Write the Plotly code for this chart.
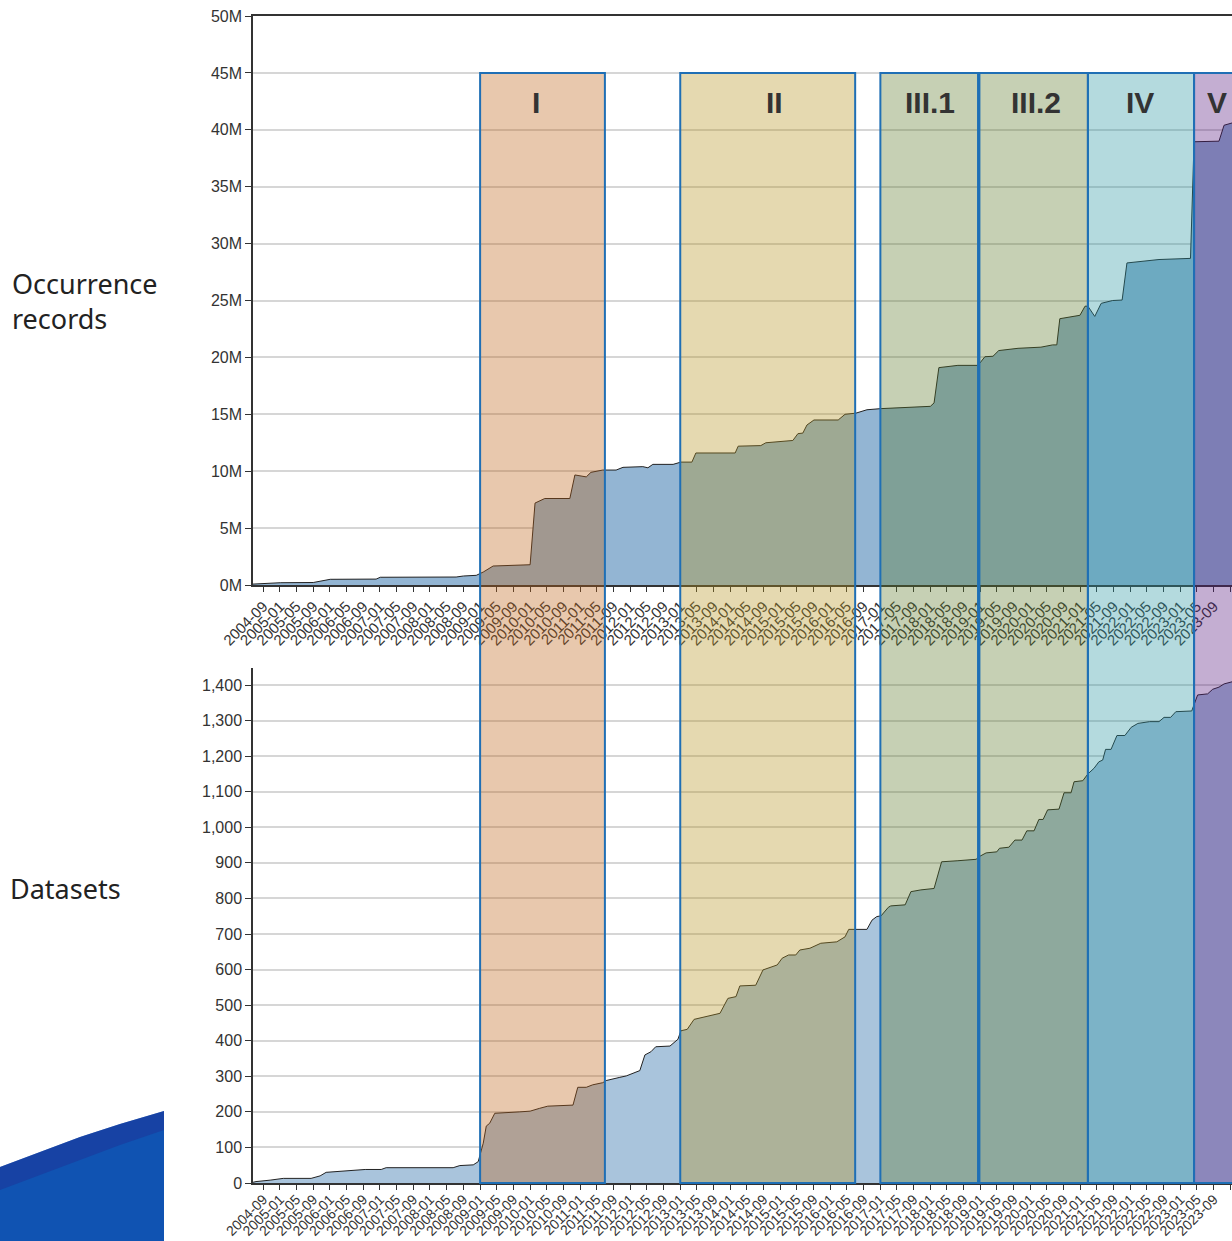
import plotly.graph_objects as go

# ---------------- data ----------------
occ_dates = ["2004-06-18", "2005-01-03", "2005-09-01", "2006-01-03", "2006-12-04", "2007-01-03",
             "2008-07-10", "2008-09-01", "2008-12-04", "2009-01-24", "2009-04-06", "2009-09-21",
             "2010-01-01", "2010-02-06", "2010-04-18", "2010-10-18", "2010-11-24", "2011-02-15",
             "2011-03-21", "2011-06-15", "2011-09-21", "2011-11-10", "2012-04-03", "2012-05-10",
             "2012-06-15", "2012-11-10", "2013-01-06", "2013-03-27", "2013-04-25", "2014-02-06",
             "2014-02-28", "2014-08-12", "2014-09-18", "2015-04-03", "2015-05-10", "2015-06-15",
             "2015-07-15", "2015-09-04", "2016-02-28", "2016-04-18", "2016-07-06", "2016-09-25",
             "2017-01-06", "2018-01-01", "2018-01-28", "2018-03-04", "2018-07-21", "2018-12-15",
             "2019-02-03", "2019-04-03", "2019-05-15", "2019-10-03", "2020-03-18", "2020-06-12",
             "2020-07-12", "2020-08-03", "2020-10-24", "2020-12-28", "2021-02-03", "2021-02-24",
             "2021-04-15", "2021-06-01", "2021-08-24", "2021-11-01", "2021-12-06", "2022-07-28",
             "2023-03-15", "2023-04-10", "2023-10-09", "2023-11-15", "2024-01-12"]
occ_millions = [0.08, 0.2, 0.22, 0.5, 0.52, 0.68,
                0.7, 0.79, 0.85, 1.14, 1.67, 1.73,
                1.78, 7.2, 7.6, 7.6, 9.67, 9.5,
                9.9, 10.1, 10.1, 10.34, 10.4, 10.3,
                10.6, 10.6, 10.8, 10.8, 11.6, 11.6,
                12.2, 12.25, 12.5, 12.7, 13.3, 13.35,
                14.06, 14.5, 14.5, 15.0, 15.1, 15.4,
                15.5, 15.7, 16.0, 19.1, 19.3, 19.3,
                20.06, 20.1, 20.6, 20.8, 20.9, 21.1,
                21.1, 23.4, 23.6, 23.7, 24.5, 24.5,
                23.6, 24.75, 25.0, 25.04, 28.3, 28.6,
                28.7, 38.95, 39.0, 40.4, 40.6]

ds_dates = ["2004-06-18", "2004-07-10", "2004-10-21", "2005-01-25", "2005-08-16", "2005-10-21",
            "2005-12-04", "2006-02-15", "2006-08-10", "2006-09-15", "2007-01-10", "2007-02-15",
            "2008-06-18", "2008-08-06", "2008-11-12", "2008-12-18", "2009-01-24", "2009-02-15",
            "2009-03-12", "2009-04-18", "2009-10-18", "2010-01-01", "2010-03-12", "2010-05-10",
            "2010-11-10", "2010-12-15", "2011-02-15", "2011-04-03", "2011-06-15", "2011-07-10",
            "2011-10-18", "2011-12-04", "2012-03-12", "2012-04-18", "2012-06-01", "2012-07-06",
            "2012-10-18", "2012-12-15", "2013-01-06", "2013-02-21", "2013-04-12", "2013-07-01",
            "2013-09-12", "2013-10-18", "2013-12-15", "2014-02-12", "2014-03-12", "2014-07-06",
            "2014-08-28", "2014-11-03", "2014-12-10", "2015-01-15", "2015-03-03", "2015-04-24",
            "2015-05-24", "2015-08-06", "2015-10-24", "2016-02-18", "2016-04-18", "2016-05-15",
            "2016-09-25", "2016-11-01", "2016-12-06", "2017-01-06", "2017-02-28", "2017-03-18",
            "2017-07-01", "2017-08-12", "2017-10-24", "2018-01-28", "2018-03-24", "2018-07-21",
            "2018-12-01", "2018-12-21", "2019-02-12", "2019-05-01", "2019-05-21", "2019-07-28",
            "2019-09-10", "2019-11-01", "2019-12-06", "2020-01-28", "2020-03-03", "2020-04-03",
            "2020-05-06", "2020-07-28", "2020-09-03", "2020-10-24", "2020-11-15", "2021-01-18",
            "2021-02-24", "2021-04-10", "2021-05-15", "2021-06-12", "2021-07-03", "2021-08-12",
            "2021-09-24", "2021-11-21", "2022-01-06", "2022-02-24", "2022-05-21", "2022-07-28",
            "2022-09-03", "2022-10-21", "2022-11-28", "2023-03-24", "2023-05-06", "2023-07-18",
            "2023-08-24", "2023-10-09", "2023-11-15", "2024-01-12"]
ds_counts = [2, 4, 8, 13, 13, 20,
             30, 32, 35, 38, 38, 43,
             43, 49, 51, 60, 112, 160,
             168, 196, 200, 202, 210, 216,
             219, 269, 269, 276, 282, 288,
             297, 301, 316, 360, 369, 383,
             385, 404, 428, 432, 460, 468,
             475, 477, 519, 524, 554, 556,
             599, 608, 613, 632, 641, 641,
             655, 660, 674, 678, 692, 713,
             713, 739, 749, 751, 775, 779,
             782, 819, 824, 828, 903, 906,
             910, 917, 928, 931, 941, 944,
             964, 964, 990, 990, 1022, 1022,
             1049, 1051, 1097, 1097, 1128, 1131,
             1150, 1166, 1184, 1189, 1219, 1219,
             1258, 1258, 1281, 1292, 1297, 1297,
             1309, 1309, 1325, 1327, 1372, 1375,
             1388, 1394, 1403, 1409]

phase_names = ["I", "II", "III.1", "III.2", "IV", "V"]
phase_starts = ["2009-01-01", "2013-01-01", "2017-01-01", "2018-12-25", "2021-02-24", "2023-04-10"]
phase_ends = ["2011-07-01", "2016-07-01", "2018-12-15", "2021-02-24", "2023-04-10", "2024-02-20"]
phase_label_dates = ["2010-02-15", "2014-11-20", "2017-12-28", "2020-02-10", "2022-03-10", "2023-09-25"]
phase_colors = ["rgba(189,98,21,0.35)", "rgba(181,146,29,0.35)", "rgba(93,121,41,0.35)",
                "rgba(93,121,41,0.35)", "rgba(41,149,161,0.35)", "rgba(87,24,126,0.35)"]

occ_ticks = [0, 5, 10, 15, 20, 25, 30, 35, 40, 45, 50]
ds_ticks = [0, 100, 200, 300, 400, 500, 600, 700, 800, 900, 1000, 1100, 1200, 1300, 1400]

# ---------------- layout geometry ----------------
W, H = 1232, 1241
ML, MT, MB = 253, 16, 58
plot_w = W - ML
plot_h = H - MT - MB


def px_x(p):
    return (p - ML) / plot_w


def px_y(p):
    return (H - MB - p) / plot_h


x_range = ["2004-06-18", "2024-01-12"]
font_fam = "Liberation Sans, Arial, sans-serif"

fig = go.Figure()
fig.add_trace(go.Scatter(x=occ_dates, y=occ_millions, mode="lines", fill="tozeroy",
                         fillcolor="#93b5d3", line=dict(color="#222222", width=1),
                         xaxis="x", yaxis="y", showlegend=False, hoverinfo="skip"))
fig.add_trace(go.Scatter(x=ds_dates, y=ds_counts, mode="lines", fill="tozeroy",
                         fillcolor="#a9c4dc", line=dict(color="#222222", width=1),
                         xaxis="x2", yaxis="y2", showlegend=False, hoverinfo="skip"))

xcommon = dict(type="date", range=x_range, tick0="2004-09-01", dtick="M4", tickformat="%Y-%m",
               tickangle=-45, ticks="outside", ticklen=5, tickcolor="#333", tickwidth=1.2,
               showline=True, linecolor="#333", linewidth=1.5, showgrid=False, zeroline=False,
               automargin=False, domain=[0, 1])
ycommon = dict(ticks="outside", ticklen=6, tickcolor="#333", tickwidth=1.2, showline=True,
               linecolor="#333", linewidth=1.5, showgrid=True, gridcolor="#d6d6d6", gridwidth=1.5,
               zeroline=False, automargin=False, tickfont=dict(family=font_fam, size=16, color="#333"))

up_bottom = px_y(585)
low_top = px_y(668)
low_range_top = 1400 + (685 - 668) * 1400 / (1183 - 685)

fig.update_layout(
    width=W, height=H, margin=dict(l=ML, r=0, t=MT, b=MB, autoexpand=False),
    paper_bgcolor="white", plot_bgcolor="white",
    xaxis=dict(xcommon, anchor="y", mirror=True,
               tickfont=dict(family=font_fam, size=15, color="#333333")),
    xaxis2=dict(xcommon, anchor="y2", ticklabelstandoff=-4,
                tickfont=dict(family=font_fam, size=14, color="#333333")),
    yaxis=dict(ycommon, domain=[up_bottom, 1], range=[0, 50], tickvals=occ_ticks,
               ticktext=[f"{v}M" for v in occ_ticks], anchor="x"),
    yaxis2=dict(ycommon, domain=[0, low_top], range=[0, low_range_top], tickvals=ds_ticks,
                ticktext=[f"{v:,}" for v in ds_ticks], anchor="x2"),
)

# phase rectangles spanning both panels
rect_top = px_y(73)
for name, s, e, c in zip(phase_names, phase_starts, phase_ends, phase_colors):
    fig.add_shape(type="rect", xref="x", yref="paper", x0=s, x1=e, y0=0, y1=rect_top,
                  fillcolor=c, line=dict(color="#1f6fb5", width=2), layer="above")

label_y = px_y(103)
for name, d in zip(phase_names, phase_label_dates):
    fig.add_annotation(x=d, xref="x", y=label_y, yref="paper",
                       text=f"<b>{name}</b>", showarrow=False, xanchor="center", yanchor="middle",
                       font=dict(family=font_fam, size=30, color="#333333"))

# side labels
side_font = dict(family="Noto Sans, Open Sans, sans-serif", size=27, color="#222")
fig.add_annotation(x=px_x(10), xref="paper", y=px_y(301), yref="paper",
                   text="Occurrence<br>records", showarrow=False, xanchor="left", yanchor="middle",
                   align="left", font=side_font)
fig.add_annotation(x=px_x(8), xref="paper", y=px_y(888), yref="paper",
                   text="Datasets", showarrow=False, xanchor="left", yanchor="middle",
                   align="left", font=side_font)

# decorative blue swoosh bottom-left
sw = [(0, 1167), (40, 1152), (80, 1137), (120, 1124), (164, 1111), (164, 1245), (0, 1245)]
path = "M " + " L ".join(f"{px_x(a):.5f},{px_y(b):.5f}" for a, b in sw) + " Z"
fig.add_shape(type="path", xref="paper", yref="paper", path=path, fillcolor="#1053b2",
              line=dict(width=0), layer="above")
band = [(0, 1167), (40, 1152), (80, 1137), (120, 1124), (164, 1111), (164, 1130),
        (120, 1145), (80, 1160), (40, 1175), (0, 1190)]
path2 = "M " + " L ".join(f"{px_x(a):.5f},{px_y(b):.5f}" for a, b in band) + " Z"
fig.add_shape(type="path", xref="paper", yref="paper", path=path2, fillcolor="rgba(30,50,150,0.5)",
              line=dict(width=0), layer="above")

fig.write_html("out.html", config={"displayModeBar": False},
               post_script="document.body.style.margin='0';document.body.style.overflow='hidden';")
